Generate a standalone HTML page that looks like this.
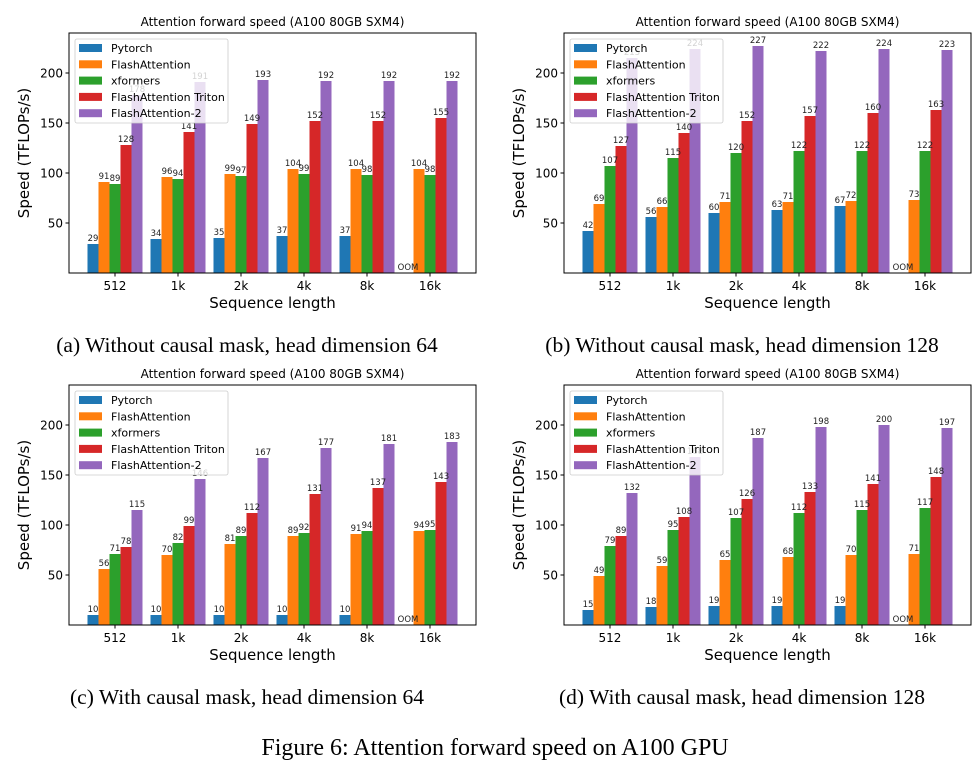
<!DOCTYPE html>
<html><head><meta charset="utf-8">
<style>
body{margin:0;background:#fff;}
svg{display:block;}
text{font-family:"DejaVu Sans","Liberation Sans",sans-serif;}
.cap{font-family:"Liberation Serif",serif;}
</style></head>
<body>
<svg id="fig" width="978" height="767" viewBox="0 0 978 767" xmlns="http://www.w3.org/2000/svg"></svg>
<script>
const categories = ["512","1k","2k","4k","8k","16k"];
const seriesNames = ["Pytorch","FlashAttention","xformers","FlashAttention Triton","FlashAttention-2"];
const colors = ["#1f77b4","#ff7f0e","#2ca02c","#d62728","#9467bd"];
const yTicks = [50,100,150,200];
// panel a
const aPytorch = [29,34,35,37,37,null];
const aFlash = [91,96,99,104,104,104];
const aXformers = [89,94,97,99,98,98];
const aTriton = [128,141,149,152,152,155];
const aFlash2 = [178,191,193,192,192,192];
// panel b
const bPytorch = [42,56,60,63,67,null];
const bFlash = [69,66,71,71,72,73];
const bXformers = [107,115,120,122,122,122];
const bTriton = [127,140,152,157,160,163];
const bFlash2 = [215,224,227,222,224,223];
// panel c
const cPytorch = [10,10,10,10,10,null];
const cFlash = [56,70,81,89,91,94];
const cXformers = [71,82,89,92,94,95];
const cTriton = [78,99,112,131,137,143];
const cFlash2 = [115,146,167,177,181,183];
// panel d
const dPytorch = [15,18,19,19,19,null];
const dFlash = [49,59,65,68,70,71];
const dXformers = [79,95,107,112,115,117];
const dTriton = [89,108,126,133,141,148];
const dFlash2 = [132,168,187,198,200,197];

const panels = [
  {id:"a", x:69, y:33, series:[aPytorch,aFlash,aXformers,aTriton,aFlash2], cap:"(a) Without causal mask, head dimension 64", cx:247, cy:352},
  {id:"b", x:564, y:33, series:[bPytorch,bFlash,bXformers,bTriton,bFlash2], cap:"(b) Without causal mask, head dimension 128", cx:742, cy:352},
  {id:"c", x:69, y:385, series:[cPytorch,cFlash,cXformers,cTriton,cFlash2], cap:"(c) With causal mask, head dimension 64", cx:247, cy:704},
  {id:"d", x:564, y:385, series:[dPytorch,dFlash,dXformers,dTriton,dFlash2], cap:"(d) With causal mask, head dimension 128", cx:742, cy:704},
];
const NS="http://www.w3.org/2000/svg";
const svg=document.getElementById('fig');
function mk(tag,attrs,parent,txt){const e=document.createElementNS(NS,tag);for(const k in attrs)e.setAttribute(k,attrs[k]);if(txt!==undefined)e.textContent=txt;(parent||svg).appendChild(e);return e;}
const W=407,H=240,YMAX=240;
panels.forEach(p=>{
  const g=mk('g',{});
  
  
  const spacing=W/6.46;
  const xS=i=>p.x+(i+0.73)*spacing;
  const yS=v=>p.y+H-v*H/YMAX;
  const bw=11;
  const t=mk('text',{x:p.x+W/2,y:p.y-7,'text-anchor':'middle','font-size':12},g,"Attention forward speed (A100 80GB SXM4)");
  
  
  p.series.forEach((arr,s)=>{
    arr.forEach((v,i)=>{
      const cx=xS(i)+(s-2)*bw;
      const val=v===null?0:v;
      const r=mk('rect',{x:cx-bw/2,y:yS(val),width:bw,height:val*H/YMAX,fill:colors[s]},g);
      
      
    });
  });
  p.series.forEach((arr,s)=>{
    arr.forEach((v,i)=>{
      const cx=xS(i)+(s-2)*bw;
      const val=v===null?0:v;
      const lb=mk('text',{x:cx,y:yS(val)-3,'text-anchor':'middle','font-size':8.5,fill:'#222'},g,v===null?"OOM":String(v));
      
      
    });
  });
  const fr=mk('rect',{x:p.x,y:p.y,width:W,height:H,fill:'none',stroke:'#000','stroke-width':1},g);
  
  
  categories.forEach((c,i)=>{
    mk('line',{x1:xS(i),x2:xS(i),y1:p.y+H,y2:p.y+H+3.5,stroke:'#000'},g);
    const tl=mk('text',{x:xS(i),y:p.y+H+17,'text-anchor':'middle','font-size':12},g,c);
    
    
  });
  yTicks.forEach(v=>{
    mk('line',{x1:p.x-3.5,x2:p.x,y1:yS(v),y2:yS(v),stroke:'#000'},g);
    const tl=mk('text',{x:p.x-6,y:yS(v)+4.5,'text-anchor':'end','font-size':12},g,String(v));
    
    
  });
  const xl=mk('text',{x:p.x+W/2,y:p.y+H+35,'text-anchor':'middle','font-size':15},g,"Sequence length");
  
  
  const ylx=p.x-40, yly=p.y+H/2;
  const yl=mk('text',{x:ylx,y:yly,'text-anchor':'middle','font-size':15,transform:`rotate(-90 ${ylx} ${yly})`},g,"Speed (TFLOPs/s)");
  
  
  const lg=mk('g',{},g);
  
  
  mk('rect',{x:p.x+6,y:p.y+6,width:153,height:84,rx:2,fill:'#fff','fill-opacity':0.8,stroke:'#ccc','stroke-width':0.8},lg);
  seriesNames.forEach((n,s)=>{
    const yy=p.y+15+s*16.3;
    mk('rect',{x:p.x+10,y:yy-4,width:23,height:8,fill:colors[s]},lg);
    const lt=mk('text',{x:p.x+42,y:yy+4,'font-size':11,fill:'#000'},lg,n);
    
    
  });
  const cp=mk('text',{x:p.cx,y:p.cy,'text-anchor':'middle','font-size':21.5,'class':'cap'},g,p.cap);
  
  
});
const fc=mk('text',{x:495,y:755,'text-anchor':'middle','font-size':24,'class':'cap'},svg,"Figure 6: Attention forward speed on A100 GPU");


</script>
</body></html>
